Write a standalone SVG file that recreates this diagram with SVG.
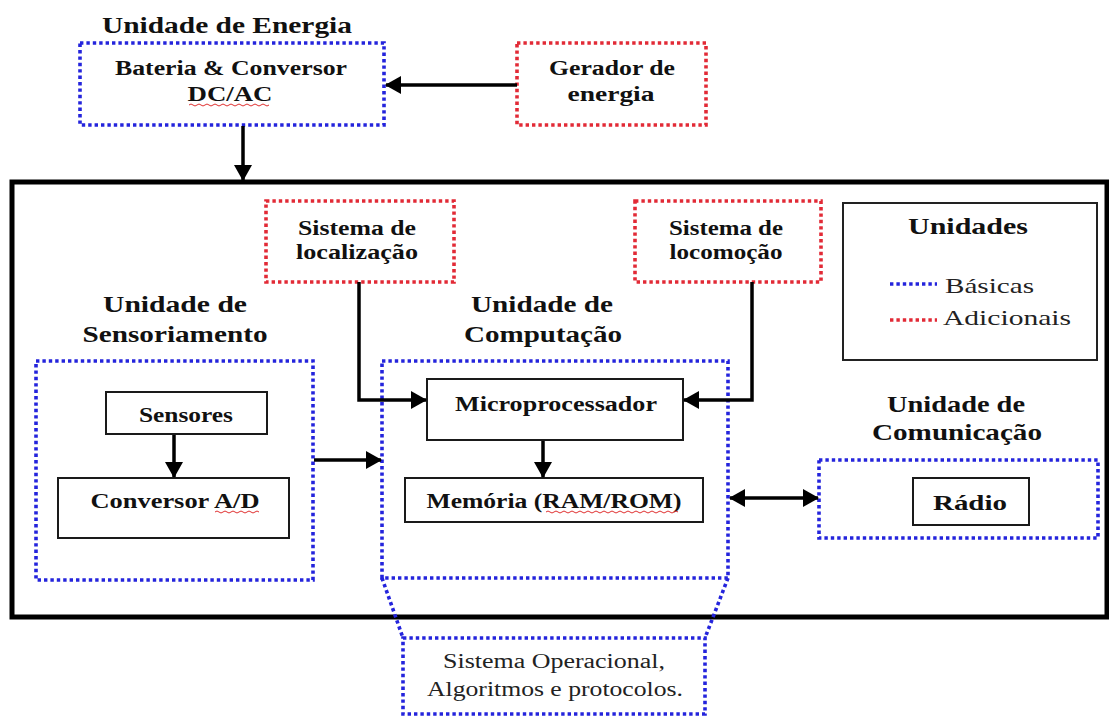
<svg xmlns="http://www.w3.org/2000/svg" width="1109" height="716" viewBox="0 0 1109 716">
<defs>
<style>
.t{font-family:"Liberation Serif","Times New Roman",serif;font-weight:bold;fill:#111;text-anchor:middle}
.h{font-size:24px}
.n{font-size:20px}
.r{font-family:"Liberation Serif","Times New Roman",serif;font-weight:normal;fill:#222;font-size:20px}
.blue{fill:#fff;stroke:#2424dc;stroke-width:3.6;stroke-dasharray:3.4 3}
.bline{fill:none;stroke:#2424dc;stroke-width:3.6;stroke-dasharray:3.4 3}
.red{fill:#fff;stroke:#e22a36;stroke-width:3.6;stroke-dasharray:3.4 3}
.box{fill:#fff;stroke:#1a1a1a;stroke-width:2}
.conn{fill:none;stroke:#000;stroke-width:3.5}
.sq{fill:none;stroke:#e03030;stroke-width:1}
</style>
<marker id="ah" viewBox="0 0 16 18" markerUnits="userSpaceOnUse" markerWidth="16" markerHeight="18" refX="15" refY="9" orient="auto-start-reverse">
<path d="M0,0 L16,9 L0,18 z" fill="#000"/>
</marker>
</defs>
<rect width="1109" height="716" fill="#fff"/>

<g id="main-frame">
<rect x="12" y="182" width="1095" height="435" fill="none" stroke="#000" stroke-width="5"/>
</g>

<g id="unidade-energia">
<text class="t h" x="227" y="33" textLength="250" lengthAdjust="spacingAndGlyphs">Unidade de Energia</text>
</g>

<g id="bateria">
<rect class="blue" x="80" y="43" width="304" height="82"/>
<text class="t n" x="231" y="75" textLength="232" lengthAdjust="spacingAndGlyphs">Bateria &amp; Conversor</text>
<text class="t n" x="230" y="101" textLength="85" lengthAdjust="spacingAndGlyphs">DC/AC</text>
<path class="sq" d="M189,105 q2,-2 4,0 t4,0 t4,0 t4,0 t4,0 t4,0 t4,0 t4,0 t4,0 t4,0 t4,0 t4,0 t4,0 t4,0 t4,0 t4,0 t4,0 t4,0 t4,0 t4,0"/>
</g>

<g id="gerador">
<rect class="red" x="517" y="43" width="189" height="82"/>
<text class="t n" x="612" y="75" textLength="126" lengthAdjust="spacingAndGlyphs">Gerador de</text>
<text class="t n" x="611" y="101" textLength="87" lengthAdjust="spacingAndGlyphs">energia</text>
</g>

<g id="localizacao">
<rect class="red" x="266" y="201" width="188" height="81"/>
<text class="t n" x="357" y="235" textLength="118" lengthAdjust="spacingAndGlyphs">Sistema de</text>
<text class="t n" x="357" y="259" textLength="122" lengthAdjust="spacingAndGlyphs">localização</text>
</g>

<g id="locomocao">
<rect class="red" x="635" y="201" width="186" height="81"/>
<text class="t n" x="726" y="235" textLength="114" lengthAdjust="spacingAndGlyphs">Sistema de</text>
<text class="t n" x="726" y="259" textLength="113" lengthAdjust="spacingAndGlyphs">locomoção</text>
</g>

<g id="legenda">
<rect x="843" y="203" width="254" height="157" fill="#fff" stroke="#222" stroke-width="2"/>
<text class="t" style="font-size:23px" x="968" y="234" textLength="120" lengthAdjust="spacingAndGlyphs">Unidades</text>
<line class="bline" x1="890" y1="284" x2="937" y2="284"/>
<text class="r" style="font-size:21px" x="945" y="293" textLength="89" lengthAdjust="spacingAndGlyphs">Básicas</text>
<line x1="890" y1="320" x2="937" y2="320" stroke="#e22a36" stroke-width="3.6" stroke-dasharray="3.4 3"/>
<text class="r" style="font-size:21px" x="943" y="325" textLength="128" lengthAdjust="spacingAndGlyphs">Adicionais</text>
</g>

<g id="sensoriamento">
<text class="t h" x="175" y="312" textLength="144" lengthAdjust="spacingAndGlyphs">Unidade de</text>
<text class="t h" x="175" y="342" textLength="185" lengthAdjust="spacingAndGlyphs">Sensoriamento</text>
<rect class="blue" x="36" y="361" width="277" height="219"/>
</g>

<g id="sensores">
<rect class="box" x="106" y="392" width="161" height="42"/>
<text class="t n" x="186" y="422" textLength="94" lengthAdjust="spacingAndGlyphs">Sensores</text>
</g>

<g id="conversor-ad">
<rect class="box" x="58" y="478" width="231" height="60"/>
<text class="t n" x="175" y="508" textLength="169" lengthAdjust="spacingAndGlyphs">Conversor A/D</text>
<path class="sq" d="M215,512 q2,-2 4,0 t4,0 t4,0 t4,0 t4,0 t4,0 t4,0 t4,0 t4,0 t4,0 t4,0"/>
</g>

<g id="computacao">
<text class="t h" x="542" y="312" textLength="142" lengthAdjust="spacingAndGlyphs">Unidade de</text>
<text class="t h" x="543" y="342" textLength="158" lengthAdjust="spacingAndGlyphs">Computação</text>
<rect class="blue" x="382" y="361" width="346" height="217"/>
</g>

<g id="microprocessador">
<rect class="box" x="427" y="379" width="256" height="61"/>
<text class="t n" x="556" y="411" textLength="202" lengthAdjust="spacingAndGlyphs">Microprocessador</text>
</g>

<g id="memoria">
<rect class="box" x="405" y="478" width="298" height="44"/>
<text class="t n" x="554" y="508" textLength="255" lengthAdjust="spacingAndGlyphs">Memória (RAM/ROM)</text>
<path class="sq" d="M546,512 q2,-2 4,0 t4,0 t4,0 t4,0 t4,0 t4,0 t4,0 t4,0 t4,0 t4,0 t4,0 t4,0 t4,0 t4,0 t4,0 t4,0 t4,0 t4,0 t4,0 t4,0 t4,0 t4,0 t4,0 t4,0 t4,0 t4,0 t4,0 t4,0 t4,0 t4,0 t4,0 t4,0 t4,0"/>
</g>

<g id="sistema-operacional">
<path class="bline" d="M382,578 L403,638 M728,578 L705,638"/>
<rect class="blue" x="403" y="638" width="302" height="76"/>
<text class="r" x="554" y="668" text-anchor="middle" textLength="222" lengthAdjust="spacingAndGlyphs">Sistema Operacional,</text>
<text class="r" x="555" y="696" text-anchor="middle" textLength="256" lengthAdjust="spacingAndGlyphs">Algoritmos e protocolos.</text>
</g>

<g id="comunicacao">
<text class="t h" x="956" y="412" textLength="138" lengthAdjust="spacingAndGlyphs">Unidade de</text>
<text class="t h" x="957" y="440" textLength="170" lengthAdjust="spacingAndGlyphs">Comunicação</text>
<rect class="blue" x="819" y="460" width="279" height="78"/>
</g>

<g id="radio">
<rect class="box" x="913" y="478" width="116" height="47"/>
<text class="t" style="font-size:22px" x="970" y="510" textLength="74" lengthAdjust="spacingAndGlyphs">Rádio</text>
</g>

<g id="connectors">
<path class="conn" d="M517,85 H386" marker-end="url(#ah)"/>
<path class="conn" d="M243,126 V180" marker-end="url(#ah)"/>
<path class="conn" d="M359,282 V400 H426" marker-end="url(#ah)"/>
<path class="conn" d="M752,282 V400 H684" marker-end="url(#ah)"/>
<path class="conn" d="M174,435 V477" marker-end="url(#ah)"/>
<path class="conn" d="M543,441 V477" marker-end="url(#ah)"/>
<path class="conn" d="M314,460 H381" marker-end="url(#ah)"/>
<path class="conn" d="M730,498 H818" marker-start="url(#ah)" marker-end="url(#ah)"/>
</g>
</svg>
